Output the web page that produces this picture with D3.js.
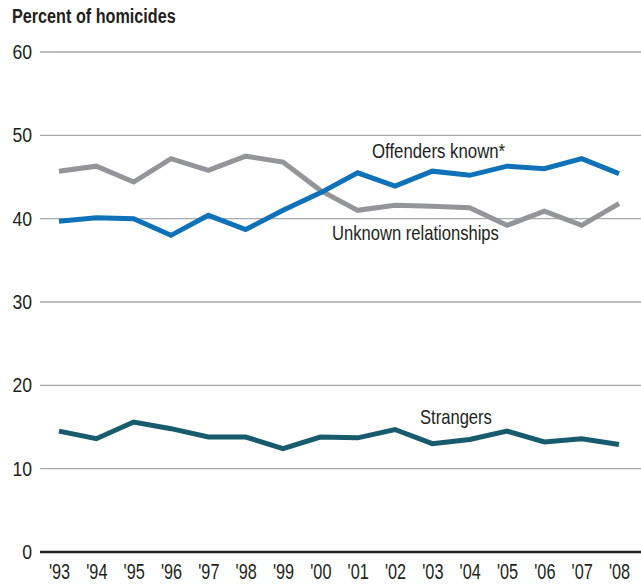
<!DOCTYPE html>
<html>
<head>
<meta charset="utf-8">
<script src="https://cdn.jsdelivr.net/npm/d3@7"></script>
<style>
  body { margin: 0; background: #fff; }
  text { font-family: "Liberation Sans", Arial, sans-serif; fill: #231f20; }
</style>
</head>
<body>
<div id="chart"></div>
<script>
//Data
let years = ["'93", "'94", "'95", "'96", "'97", "'98", "'99", "'00", "'01", "'02", "'03", "'04", "'05", "'06", "'07", "'08"];
let offendersKnown = [39.7, 40.1, 40.0, 38.0, 40.4, 38.7, 41.0, 43.1, 45.5, 43.9, 45.7, 45.2, 46.3, 46.0, 47.2, 45.4];
let unknownRel = [45.7, 46.3, 44.4, 47.2, 45.8, 47.5, 46.8, 43.4, 41.0, 41.6, 41.5, 41.3, 39.2, 40.9, 39.2, 41.8];
let strangers = [14.5, 13.6, 15.6, 14.8, 13.8, 13.8, 12.4, 13.8, 13.7, 14.7, 13.0, 13.5, 14.5, 13.2, 13.6, 12.9];
let yTicks = [0, 10, 20, 30, 40, 50, 60];

//SVG size
let svgWidth = 641;
let svgHeight = 584;

let svg = d3.select("#chart")
  .append("svg")
  .attr("width", svgWidth)
  .attr("height", svgHeight);

//Condensed text: squeeze a normal font horizontally
function narrowText(x, y, size, sx, txt) {
  return svg.append("text")
    .attr("transform", `translate(${x}, ${y}) scale(${sx}, 1)`)
    .style("font-size", size + "px")
    .text(txt);
}

//Scales
let x = d3.scalePoint()
  .domain(years)
  .range([59, 619]);
let y = d3.scaleLinear()
  .domain([0, 60])
  .range([552, 52]);

//Gridlines
svg.append("g")
  .selectAll("line")
  .data(yTicks)
  .enter()
  .append("line")
  .attr("x1", 40)
  .attr("x2", 641)
  .attr("y1", d => y(d))
  .attr("y2", d => y(d))
  .attr("stroke", d => d === 0 ? "#231f20" : "#a7a9ac")
  .attr("stroke-width", d => d === 0 ? 2.5 : 1.3);

//Y tick labels
svg.append("g")
  .selectAll("text")
  .data(yTicks)
  .enter()
  .append("text")
  .attr("transform", d => `translate(32, ${y(d) + 7}) scale(0.86, 1)`)
  .style("font-size", "20.5px")
  .style("text-anchor", "end")
  .text(d => d);

//X tick labels
let xAxis = d3.axisBottom(x).tickSize(0);
let xg = svg.append("g")
  .attr("transform", "translate(0, 579)")
  .call(xAxis);
xg.select(".domain").remove();
xg.selectAll("text")
  .attr("y", 0)
  .attr("dy", null)
  .attr("transform", "scale(0.74, 1)")
  .style("font-size", "22px")
  .style("font-family", "'Liberation Sans', Arial, sans-serif")
  .attr("fill", "#231f20");

//Title
narrowText(12, 23, 20, 0.81, "Percent of homicides")
  .style("font-weight", "bold");

//Lines
let line = d3.line()
  .x((d, i) => x(years[i]))
  .y(d => y(d));

let series = [
  { values: unknownRel, color: "#939598" },
  { values: offendersKnown, color: "#0f72b9" },
  { values: strangers, color: "#175b6c" }
];

svg.append("g")
  .selectAll("path")
  .data(series)
  .enter()
  .append("path")
  .attr("d", d => line(d.values))
  .attr("fill", "none")
  .attr("stroke", d => d.color)
  .attr("stroke-width", 5)
  .attr("stroke-linejoin", "miter");

//Series labels
narrowText(372, 158, 20, 0.84, "Offenders known*");
narrowText(332, 240, 20, 0.83, "Unknown relationships");
narrowText(420, 424, 20, 0.83, "Strangers");
</script>
</body>
</html>
